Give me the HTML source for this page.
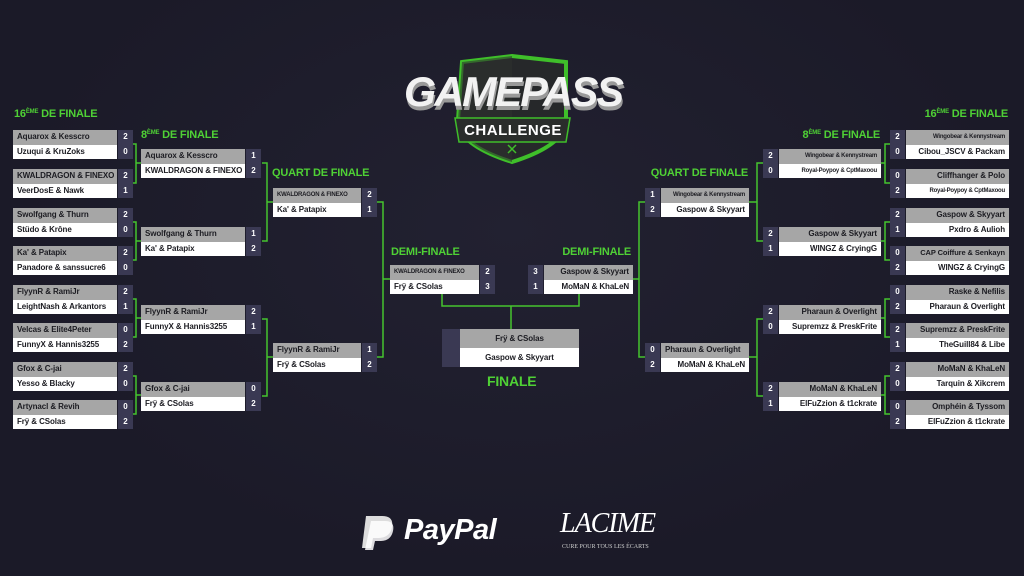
<!DOCTYPE html>
<html><head><meta charset="utf-8"><style>
*{margin:0;padding:0;box-sizing:border-box}
body{width:1024px;height:576px;overflow:hidden;background:#1b1a28;font-family:"Liberation Sans",sans-serif;position:relative}
.bg{position:absolute;inset:0;background:radial-gradient(ellipse at 50% 40%,#222131 0%,#1b1a28 70%)}
.m{position:absolute}
.r{display:flex;height:14.5px}
.n{font-weight:bold;font-size:8px;line-height:14.5px;padding:0 4px;white-space:nowrap;overflow:hidden;color:#1c1c22;letter-spacing:-0.1px}
.r:first-child .n{background:#a6a6a6}
.r:last-child .n{background:#fff}
.s{width:15px;background:#3a3953;color:#fff;font-weight:bold;font-size:8px;line-height:14.5px;text-align:center}
.L .s{margin-left:1px}
.R .s{margin-right:1px}
.R .n{text-align:right}
.sm{font-size:6px!important;letter-spacing:-0.2px}
.h{position:absolute;color:#4fd135;font-weight:bold;font-size:11px;white-space:nowrap;letter-spacing:-0.2px}
.h sup{font-size:6px;vertical-align:4px}
svg{position:absolute;left:0;top:0}
</style></head><body>
<div class="bg"></div>
<svg width="1024" height="576">
<g stroke="#45c42e" stroke-width="1.5" fill="none">
<!-- left R16 -> R8 -->
<path d="M132 144H136V183H132M136 163H141"/>
<path d="M132 222H136V260H132M136 241H141"/>
<path d="M132 299H136V337H132M136 318H141"/>
<path d="M132 376H136V414H132M136 395H141"/>
<!-- left R8 -> QF -->
<path d="M262 163H267V241H262M267 202H273"/>
<path d="M262 319H267V396H262M267 357H273"/>
<!-- left QF -> demi -->
<path d="M377 202H383V357H377M383 279H390"/>
<!-- right R16 -> R8 -->
<path d="M890 144H885V183H890M885 163H880"/>
<path d="M890 222H885V260H890M885 241H880"/>
<path d="M890 299H885V337H890M885 318H880"/>
<path d="M890 376H885V414H890M885 395H880"/>
<!-- right R8 -> QF -->
<path d="M763 163H757V241H763M757 202H748"/>
<path d="M763 319H757V396H763M757 357H748"/>
<!-- right QF -> demi -->
<path d="M645 202H639V357H645M639 279H631"/>
<!-- demi -> final -->
<path d="M442 293V306H579V293M511 306V329"/>
</g>
<!-- logo shield -->
<path d="M462 62 L512 56 L566 62 L566 120 Q566 145 512 162 Q458 145 458 120 Z" fill="#26282a" stroke="#3fbf2a" stroke-width="4"/>
<path d="M462 62 L512 56 L512 162 Q458 145 458 120 Z" fill="#2d302f" opacity=".6"/>
<path d="M455 118 L570 118 L566 142 L459 142 Z" fill="#2a2d2b" stroke="#3fbf2a" stroke-width="1.5"/>
<text x="513" y="135" fill="#fff" font-family="Liberation Sans" font-weight="bold" font-size="15" text-anchor="middle" letter-spacing="0.5">CHALLENGE</text>
<text x="514" y="110" fill="#999" font-family="Liberation Sans" font-weight="bold" font-style="italic" font-size="42" text-anchor="middle" letter-spacing="-2" textLength="218" lengthAdjust="spacingAndGlyphs">GAMEPASS</text>
<text x="513" y="106" fill="#f2f2f2" font-family="Liberation Sans" font-weight="bold" font-style="italic" font-size="42" text-anchor="middle" letter-spacing="-2" textLength="218" lengthAdjust="spacingAndGlyphs">GAMEPASS</text>
<path d="M508 145l8 8M516 145l-8 8" stroke="#3fbf2a" stroke-width="1.5"/>
<!-- paypal icon -->
<path d="M366 516h16q12 0 10 11q-2 11-14 11h-5l-2 10h-9z" fill="#ddd"/>
<path d="M371 521h14q10 0 8 10q-2 10-13 10h-5l-2 9h-8z" fill="#fff" opacity=".85"/>
</svg>

<div class="h" style="left:14px;top:108px">16<sup>ÈME</sup> DE FINALE</div>
<div class="h" style="left:141px;top:129px">8<sup>ÈME</sup> DE FINALE</div>
<div class="h" style="left:272px;top:167px">QUART DE FINALE</div>
<div class="h" style="left:391px;top:246px">DEMI-FINALE</div>
<div class="h" style="right:16px;top:108px">16<sup>ÈME</sup> DE FINALE</div>
<div class="h" style="right:144px;top:129px">8<sup>ÈME</sup> DE FINALE</div>
<div class="h" style="right:276px;top:167px">QUART DE FINALE</div>
<div class="h" style="right:393px;top:246px">DEMI-FINALE</div>
<div class="h" style="left:487px;top:373px;font-size:14px">FINALE</div>

<!-- Left R16 -->
<div class="m L" style="left:13px;top:130px"><div class="r"><div class="n" style="width:104px">Aquarox &amp; Kesscro</div><div class="s">2</div></div><div class="r"><div class="n" style="width:104px">Uzuqui &amp; KruZoks</div><div class="s">0</div></div></div>
<div class="m L" style="left:13px;top:169px"><div class="r"><div class="n" style="width:104px">KWALDRAGON &amp; FINEXO</div><div class="s">2</div></div><div class="r"><div class="n" style="width:104px">VeerDosE &amp; Nawk</div><div class="s">1</div></div></div>
<div class="m L" style="left:13px;top:208px"><div class="r"><div class="n" style="width:104px">Swolfgang &amp; Thurn</div><div class="s">2</div></div><div class="r"><div class="n" style="width:104px">Stüdo &amp; Krône</div><div class="s">0</div></div></div>
<div class="m L" style="left:13px;top:246px"><div class="r"><div class="n" style="width:104px">Ka' &amp; Patapix</div><div class="s">2</div></div><div class="r"><div class="n" style="width:104px">Panadore &amp; sanssucre6</div><div class="s">0</div></div></div>
<div class="m L" style="left:13px;top:285px"><div class="r"><div class="n" style="width:104px">FlyynR &amp; RamiJr</div><div class="s">2</div></div><div class="r"><div class="n" style="width:104px">LeightNash &amp; Arkantors</div><div class="s">1</div></div></div>
<div class="m L" style="left:13px;top:323px"><div class="r"><div class="n" style="width:104px">Velcas &amp; Elite4Peter</div><div class="s">0</div></div><div class="r"><div class="n" style="width:104px">FunnyX &amp; Hannis3255</div><div class="s">2</div></div></div>
<div class="m L" style="left:13px;top:362px"><div class="r"><div class="n" style="width:104px">Gfox &amp; C-jai</div><div class="s">2</div></div><div class="r"><div class="n" style="width:104px">Yesso &amp; Blacky</div><div class="s">0</div></div></div>
<div class="m L" style="left:13px;top:400px"><div class="r"><div class="n" style="width:104px">Artynacl &amp; Revih</div><div class="s">0</div></div><div class="r"><div class="n" style="width:104px">Frÿ &amp; CSolas</div><div class="s">2</div></div></div>

<!-- Left R8 -->
<div class="m L" style="left:141px;top:149px"><div class="r"><div class="n" style="width:104px">Aquarox &amp; Kesscro</div><div class="s">1</div></div><div class="r"><div class="n" style="width:104px">KWALDRAGON &amp; FINEXO</div><div class="s">2</div></div></div>
<div class="m L" style="left:141px;top:227px"><div class="r"><div class="n" style="width:104px">Swolfgang &amp; Thurn</div><div class="s">1</div></div><div class="r"><div class="n" style="width:104px">Ka' &amp; Patapix</div><div class="s">2</div></div></div>
<div class="m L" style="left:141px;top:305px"><div class="r"><div class="n" style="width:104px">FlyynR &amp; RamiJr</div><div class="s">2</div></div><div class="r"><div class="n" style="width:104px">FunnyX &amp; Hannis3255</div><div class="s">1</div></div></div>
<div class="m L" style="left:141px;top:382px"><div class="r"><div class="n" style="width:104px">Gfox &amp; C-jai</div><div class="s">0</div></div><div class="r"><div class="n" style="width:104px">Frÿ &amp; CSolas</div><div class="s">2</div></div></div>

<!-- Left QF -->
<div class="m L" style="left:273px;top:188px"><div class="r"><div class="n sm" style="width:88px">KWALDRAGON &amp; FINEXO</div><div class="s">2</div></div><div class="r"><div class="n" style="width:88px">Ka' &amp; Patapix</div><div class="s">1</div></div></div>
<div class="m L" style="left:273px;top:343px"><div class="r"><div class="n" style="width:88px">FlyynR &amp; RamiJr</div><div class="s">1</div></div><div class="r"><div class="n" style="width:88px">Frÿ &amp; CSolas</div><div class="s">2</div></div></div>

<!-- Demi -->
<div class="m L" style="left:390px;top:265px"><div class="r"><div class="n sm" style="width:89px">KWALDRAGON &amp; FINEXO</div><div class="s">2</div></div><div class="r"><div class="n" style="width:89px">Frÿ &amp; CSolas</div><div class="s">3</div></div></div>
<div class="m R" style="left:528px;top:265px"><div class="r"><div class="s">3</div><div class="n" style="width:89px">Gaspow &amp; Skyyart</div></div><div class="r"><div class="s">1</div><div class="n" style="width:89px">MoMaN &amp; KhaLeN</div></div></div>

<!-- Final -->
<div class="m" style="left:442px;top:329px">
<div class="r" style="height:19px"><div class="s" style="width:18px;height:19px"></div><div class="n" style="width:119px;line-height:19px;text-align:center;background:#a6a6a6">Frÿ &amp; CSolas</div></div>
<div class="r" style="height:19px"><div class="s" style="width:18px;height:19px"></div><div class="n" style="width:119px;line-height:19px;text-align:center;background:#fff">Gaspow &amp; Skyyart</div></div>
</div>

<!-- Right QF -->
<div class="m R" style="left:645px;top:188px"><div class="r"><div class="s">1</div><div class="n sm" style="width:88px">Wingobear &amp; Kennystream</div></div><div class="r"><div class="s">2</div><div class="n" style="width:88px">Gaspow &amp; Skyyart</div></div></div>
<div class="m R" style="left:645px;top:343px"><div class="r"><div class="s">0</div><div class="n" style="width:88px;text-align:left">Pharaun &amp; Overlight</div></div><div class="r"><div class="s">2</div><div class="n" style="width:88px">MoMaN &amp; KhaLeN</div></div></div>

<!-- Right R8 -->
<div class="m R" style="left:763px;top:149px"><div class="r"><div class="s">2</div><div class="n sm" style="width:102px">Wingobear &amp; Kennystream</div></div><div class="r"><div class="s">0</div><div class="n sm" style="width:102px">Royal-Poypoy &amp; CptMaxoou</div></div></div>
<div class="m R" style="left:763px;top:227px"><div class="r"><div class="s">2</div><div class="n" style="width:102px">Gaspow &amp; Skyyart</div></div><div class="r"><div class="s">1</div><div class="n" style="width:102px">WINGZ &amp; CryingG</div></div></div>
<div class="m R" style="left:763px;top:305px"><div class="r"><div class="s">2</div><div class="n" style="width:102px">Pharaun &amp; Overlight</div></div><div class="r"><div class="s">0</div><div class="n" style="width:102px">Supremzz &amp; PreskFrite</div></div></div>
<div class="m R" style="left:763px;top:382px"><div class="r"><div class="s">2</div><div class="n" style="width:102px">MoMaN &amp; KhaLeN</div></div><div class="r"><div class="s">1</div><div class="n" style="width:102px">ElFuZzion &amp; t1ckrate</div></div></div>

<!-- Right R16 -->
<div class="m R" style="left:890px;top:130px"><div class="r"><div class="s">2</div><div class="n sm" style="width:103px">Wingobear &amp; Kennystream</div></div><div class="r"><div class="s">0</div><div class="n" style="width:103px">Cibou_JSCV &amp; Packam</div></div></div>
<div class="m R" style="left:890px;top:169px"><div class="r"><div class="s">0</div><div class="n" style="width:103px">Cliffhanger &amp; Polo</div></div><div class="r"><div class="s">2</div><div class="n sm" style="width:103px">Royal-Poypoy &amp; CptMaxoou</div></div></div>
<div class="m R" style="left:890px;top:208px"><div class="r"><div class="s">2</div><div class="n" style="width:103px">Gaspow &amp; Skyyart</div></div><div class="r"><div class="s">1</div><div class="n" style="width:103px">Pxdro &amp; Aulioh</div></div></div>
<div class="m R" style="left:890px;top:246px"><div class="r"><div class="s">0</div><div class="n" style="width:103px;font-size:7.5px">CAP Coiffure &amp; Senkayn</div></div><div class="r"><div class="s">2</div><div class="n" style="width:103px">WINGZ &amp; CryingG</div></div></div>
<div class="m R" style="left:890px;top:285px"><div class="r"><div class="s">0</div><div class="n" style="width:103px">Raske &amp; Nefilis</div></div><div class="r"><div class="s">2</div><div class="n" style="width:103px">Pharaun &amp; Overlight</div></div></div>
<div class="m R" style="left:890px;top:323px"><div class="r"><div class="s">2</div><div class="n" style="width:103px">Supremzz &amp; PreskFrite</div></div><div class="r"><div class="s">1</div><div class="n" style="width:103px">TheGuill84 &amp; Libe</div></div></div>
<div class="m R" style="left:890px;top:362px"><div class="r"><div class="s">2</div><div class="n" style="width:103px">MoMaN &amp; KhaLeN</div></div><div class="r"><div class="s">0</div><div class="n" style="width:103px">Tarquin &amp; Xikcrem</div></div></div>
<div class="m R" style="left:890px;top:400px"><div class="r"><div class="s">0</div><div class="n" style="width:103px">Omphéin &amp; Tyssom</div></div><div class="r"><div class="s">2</div><div class="n" style="width:103px">ElFuZzion &amp; t1ckrate</div></div></div>

<!-- sponsors -->
<div style="position:absolute;left:404px;top:514px;color:#fff;font-weight:bold;font-style:italic;font-size:29px;letter-spacing:-0.5px">PayPal</div>
<div style="position:absolute;left:560px;top:508px;color:#fff;font-family:'Liberation Serif',serif;font-style:italic;font-size:28px;letter-spacing:-1px">LACIME</div>
<div style="position:absolute;left:562px;top:544px;color:#ccc;font-family:'Liberation Serif',serif;font-size:6px;white-space:nowrap">CURE POUR TOUS LES ÉCARTS</div>
</body></html>
